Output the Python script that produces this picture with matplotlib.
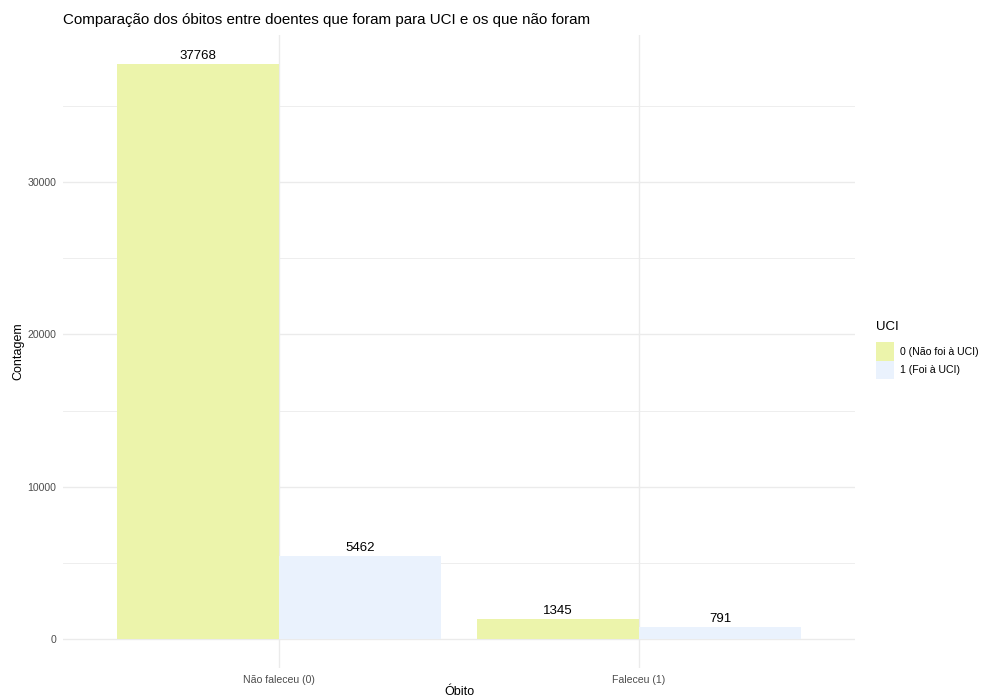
import matplotlib
matplotlib.use("Agg")
import matplotlib.pyplot as plt
import numpy as np
from matplotlib.patches import Patch

plt.rcParams['font.family'] = ['Liberation Sans', 'DejaVu Sans']

categories = ["Não faleceu (0)", "Faleceu (1)"]
groups = ["0 (Não foi à UCI)", "1 (Foi à UCI)"]
counts_uci0 = [37768, 1345]
counts_uci1 = [5462, 791]
colors = ["#ECF4AB", "#EAF2FD"]

W, H = 982, 697
fig = plt.figure(figsize=(W / 100, H / 100), dpi=100)
ax = fig.add_axes([63 / W, 29 / H, (855 - 63) / W, (668 - 35) / H])

x = np.arange(1, len(categories) + 1)
bw = 0.45
series = [counts_uci0, counts_uci1]
for i, (vals, col) in enumerate(zip(series, colors)):
    pos = x + (i - 0.5) * bw
    ax.bar(pos, vals, width=bw, color=col, zorder=2)
    for px, v in zip(pos, vals):
        ax.annotate(str(v), (px, v), xytext=(0, 1.5), textcoords="offset points",
                    ha="center", va="bottom", fontsize=9.5, color="black", zorder=3)

ymax = max(max(s) for s in series)
ax.set_ylim(-0.05 * ymax, 1.05 * ymax)
ax.set_xlim(0.4, 2.6)

ax.set_yticks([0, 10000, 20000, 30000])
ax.set_yticks([5000, 15000, 25000, 35000], minor=True)
ax.set_xticks(x)
ax.set_xticklabels(categories)
ax.grid(which="major", color="#EBEBEB", linewidth=1.0, zorder=0)
ax.grid(which="minor", axis="y", color="#EBEBEB", linewidth=0.6, zorder=0)
ax.set_axisbelow(True)
for s in ax.spines.values():
    s.set_visible(False)
ax.tick_params(which="both", length=0, labelsize=7.6, labelcolor="#4D4D4D", pad=5)

ax.set_xlabel("Óbito", fontsize=9, labelpad=1)
ax.set_ylabel("Contagem", fontsize=9, labelpad=2)
ax.set_title("Comparação dos óbitos entre doentes que foram para UCI e os que não foram",
             fontsize=10.9, loc="left", pad=8)

handles = [Patch(facecolor=c, edgecolor="none") for c in colors]
leg = fig.legend(handles, groups, title="UCI", loc="center left",
                 bbox_to_anchor=(872 / W, 1 - 350 / H), frameon=False,
                 fontsize=7.6, title_fontsize=9.5, handlelength=1.7, handleheight=2.3,
                 handletextpad=0.6, labelspacing=0.0, borderaxespad=0)
leg._legend_box.align = "left"
leg._legend_box.sep = 7

fig.savefig("out.png", dpi=100)
